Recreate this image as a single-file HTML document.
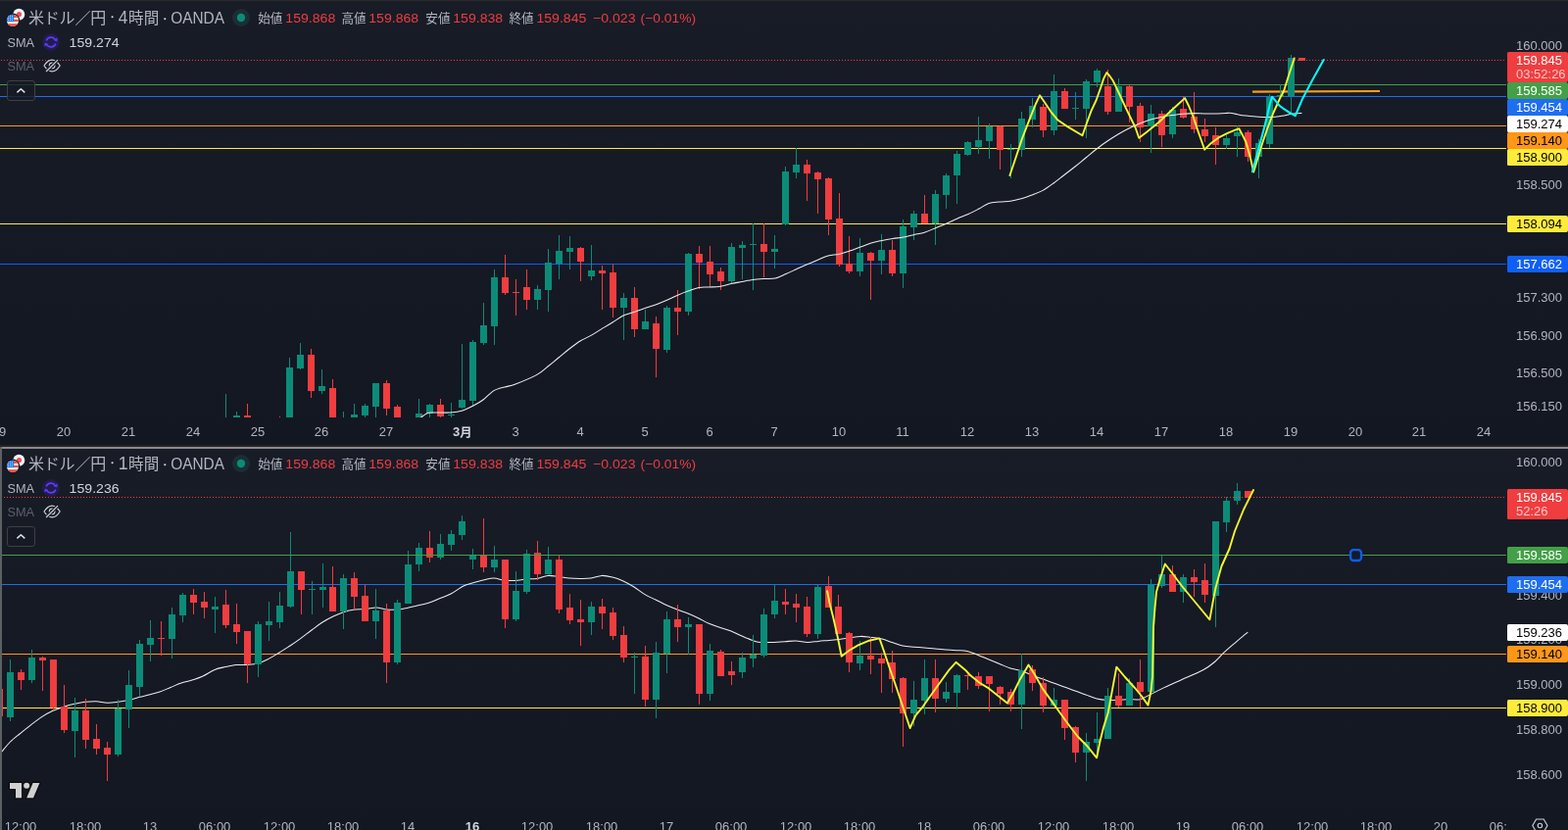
<!DOCTYPE html><html><head><meta charset="utf-8"><title>chart</title><style>html,body{margin:0;padding:0;background:#131722}body{width:1600px;height:847px;overflow:hidden;position:relative;font-family:"Liberation Sans",sans-serif}svg{display:block;position:absolute;left:0;top:0;will-change:transform;transform:translateZ(0)}text{font-family:"Liberation Sans",sans-serif;white-space:pre}text.jp{font-family:"Liberation Sans","Noto Sans CJK JP",sans-serif}</style></head><body><svg width="1600" height="847" viewBox="0 0 1600 847" font-family="Liberation Sans, sans-serif">
<defs><linearGradient id="bg" x1="0" y1="0" x2="0" y2="1"><stop offset="0" stop-color="#181c27"/><stop offset="1" stop-color="#131722"/></linearGradient><clipPath id="c1"><rect x="0" y="1" width="1538" height="425"/></clipPath><clipPath id="c2"><rect x="2" y="458" width="1536" height="368"/></clipPath><clipPath id="c3"><rect x="0" y="826" width="1538" height="21"/></clipPath></defs>
<rect x="0" y="0" width="1600" height="454" fill="url(#bg)"/>
<rect x="0" y="458" width="1600" height="389" fill="url(#bg)"/>
<rect x="0" y="0" width="1600" height="1" fill="#2b2a28"/>
<rect x="0" y="454" width="1600" height="2" fill="#242424"/>
<rect x="0" y="456" width="1600" height="2" fill="#8b8b8b"/>
<rect x="0" y="456" width="2" height="391" fill="#5b6063"/>
<g clip-path="url(#c1)">
<g shape-rendering="crispEdges">
<rect x="0" y="86" width="1537" height="1" fill="#43a047"/>
<rect x="0" y="98" width="1537" height="1" fill="#1e6ef0"/>
<rect x="0" y="128" width="1537" height="1" fill="#ff9718"/>
<rect x="0" y="151" width="1537" height="1" fill="#ffeb3b"/>
<rect x="0" y="228" width="1537" height="1" fill="#ffeb3b"/>
<rect x="0" y="269" width="1537" height="1" fill="#0f5ff7"/>
</g>
<path d="M1278 93.7 L1408 93" fill="none" stroke="#f5a01e" stroke-width="2.2" stroke-linejoin="round" stroke-linecap="butt"/>
<g shape-rendering="crispEdges"><path fill="#0c8c78" d="M230 402h1V440h-1zM241 420h1V430h-1zM295 365h1V430h-1zM306 350h1V377h-1zM328 377h1V402h-1zM350 420h1V440h-1zM361 412h1V430h-1zM372 412h1V426h-1zM383 391h1V430h-1zM427 407h1V430h-1zM438 412h1V426h-1zM460 411h1V426h-1zM471 351h1V417h-1zM482 347h1V414h-1zM493 309h1V352h-1zM504 275h1V352h-1zM548 291h1V316h-1zM559 254h1V318h-1zM570 240h1V285h-1zM581 241h1V275h-1zM603 250h1V286h-1zM636 299h1V347h-1zM658 316h1V336h-1zM680 312h1V360h-1zM702 258h1V322h-1zM746 248h1V290h-1zM757 246h1V285h-1zM768 228h1V296h-1zM790 240h1V274h-1zM801 170h1V230h-1zM812 151h1V182h-1zM877 243h1V282h-1zM899 239h1V280h-1zM921 224h1V294h-1zM932 215h1V245h-1zM954 194h1V250h-1zM965 177h1V213h-1zM976 154h1V208h-1zM987 144h1V159h-1zM998 119h1V157h-1zM1009 126h1V162h-1zM1031 147h1V182h-1zM1042 114h1V160h-1zM1053 100h1V130h-1zM1075 76h1V138h-1zM1097 94h1V122h-1zM1108 81h1V141h-1zM1119 70h1V89h-1zM1141 80h1V114h-1zM1174 107h1V156h-1zM1196 109h1V141h-1zM1251 138h1V152h-1zM1262 128h1V160h-1zM1284 142h1V182h-1zM1295 96h1V151h-1zM1306 86h1V99h-1zM1317 56h1V115h-1zM227 430h7V440h-7zM238 424h7V430h-7zM292 375h7V430h-7zM303 362h7V376h-7zM325 394h7V399h-7zM347 430h7V440h-7zM358 423h7V430h-7zM369 414h7V424h-7zM380 391h7V415h-7zM424 422h7V430h-7zM435 413h7V422h-7zM457 423h7V424h-7zM468 408h7V416h-7zM479 349h7V409h-7zM490 332h7V350h-7zM501 283h7V333h-7zM545 295h7V306h-7zM556 268h7V296h-7zM567 256h7V269h-7zM578 253h7V257h-7zM600 276h7V282h-7zM633 304h7V314h-7zM655 328h7V336h-7zM677 314h7V357h-7zM699 259h7V318h-7zM743 252h7V287h-7zM754 250h7V253h-7zM765 249h7V250h-7zM787 254h7V257h-7zM798 175h7V229h-7zM809 168h7V176h-7zM874 258h7V277h-7zM896 255h7V266h-7zM918 231h7V279h-7zM929 218h7V232h-7zM951 198h7V228h-7zM962 179h7V199h-7zM973 157h7V179h-7zM984 145h7V158h-7zM995 143h7V150h-7zM1006 129h7V144h-7zM1028 152h7V153h-7zM1039 121h7V153h-7zM1050 108h7V122h-7zM1072 93h7V133h-7zM1094 110h7V111h-7zM1105 83h7V111h-7zM1116 72h7V84h-7zM1138 88h7V114h-7zM1171 116h7V129h-7zM1193 112h7V137h-7zM1248 141h7V148h-7zM1259 135h7V139h-7zM1281 146h7V160h-7zM1292 99h7V147h-7zM1303 97h7V99h-7zM1314 59h7V98h-7z"/><path fill="#f03d3f" d="M252 412h1V430h-1zM285 425h1V440h-1zM317 356h1V406h-1zM339 387h1V430h-1zM394 388h1V424h-1zM405 413h1V430h-1zM449 407h1V426h-1zM515 260h1V301h-1zM526 285h1V322h-1zM537 275h1V316h-1zM592 252h1V287h-1zM614 271h1V316h-1zM625 270h1V324h-1zM647 293h1V344h-1zM669 323h1V385h-1zM691 296h1V342h-1zM713 251h1V295h-1zM724 251h1V293h-1zM735 273h1V296h-1zM779 228h1V283h-1zM823 163h1V205h-1zM834 175h1V218h-1zM845 181h1V240h-1zM856 197h1V272h-1zM866 241h1V279h-1zM888 257h1V306h-1zM910 245h1V282h-1zM943 199h1V228h-1zM1020 128h1V173h-1zM1064 106h1V140h-1zM1086 90h1V111h-1zM1130 71h1V117h-1zM1152 86h1V125h-1zM1163 105h1V145h-1zM1185 113h1V150h-1zM1207 98h1V121h-1zM1218 94h1V136h-1zM1229 121h1V145h-1zM1240 130h1V168h-1zM1273 133h1V165h-1zM1328 59h1V62h-1zM249 424h7V430h-7zM282 430h7V440h-7zM314 362h7V399h-7zM336 396h7V430h-7zM391 391h7V417h-7zM402 415h7V430h-7zM446 413h7V425h-7zM512 283h7V299h-7zM523 298h7V299h-7zM534 293h7V306h-7zM589 253h7V267h-7zM611 276h7V279h-7zM622 278h7V314h-7zM644 304h7V336h-7zM666 330h7V356h-7zM688 314h7V318h-7zM710 259h7V268h-7zM721 267h7V280h-7zM732 277h7V287h-7zM776 249h7V257h-7zM820 168h7V177h-7zM831 176h7V183h-7zM842 182h7V224h-7zM853 223h7V270h-7zM863 269h7V277h-7zM885 258h7V266h-7zM907 255h7V279h-7zM940 218h7V228h-7zM1017 129h7V153h-7zM1061 109h7V133h-7zM1083 93h7V111h-7zM1127 88h7V114h-7zM1149 88h7V109h-7zM1160 108h7V130h-7zM1182 116h7V138h-7zM1204 111h7V120h-7zM1215 119h7V132h-7zM1226 132h7V139h-7zM1237 138h7V148h-7zM1270 135h7V160h-7zM1325 59h7V62h-7z"/></g>
<path d="M428 427C428.3 426.8 428.7 426.5 430 425.6C431.3 424.7 434.0 422.6 436 421.8C438.0 421.0 438.0 421.1 442 421C446.0 420.9 455.0 421.3 460 421C465.0 420.7 468.2 420.2 472 419C475.8 417.8 479.5 415.8 483 414C486.5 412.2 489.5 410.6 493 408C496.5 405.4 500.3 400.8 504 398.6C507.7 396.4 511.3 396.1 515 395C518.7 393.9 520.5 394.1 526 392C531.5 389.9 542.5 385.4 548 382.4C553.5 379.4 555.3 376.9 559 374C562.7 371.1 566.3 368.0 570 365C573.7 362.0 577.3 358.8 581 356C584.7 353.2 588.3 350.3 592 348C595.7 345.7 599.3 344.5 603 342.4C606.7 340.3 610.3 337.8 614 335.6C617.7 333.4 621.3 331.3 625 329C628.7 326.7 632.3 323.8 636 322C639.7 320.2 643.3 319.8 647 318.5C650.7 317.2 654.3 315.6 658 314.4C661.7 313.1 665.3 312.3 669 311C672.7 309.7 676.3 308.2 680 306.6C683.7 305.0 687.3 303.0 691 301.4C694.7 299.8 698.3 298.3 702 297C705.7 295.7 709.3 294.1 713 293.4C716.7 292.7 720.3 293.2 724 293C727.7 292.8 731.3 292.8 735 292.2C738.7 291.6 742.3 290.4 746 289.6C749.7 288.8 753.3 288.2 757 287.5C760.7 286.8 764.2 285.9 768 285.4C771.8 284.9 776.2 284.7 780 284.5C783.8 284.3 787.3 284.8 791 284C794.7 283.2 798.5 281.0 802 279.5C805.5 278.0 808.5 276.6 812 275C815.5 273.4 819.3 271.6 823 270C826.7 268.4 830.3 267.0 834 265.5C837.7 264.0 841.3 262.0 845 261C848.7 260.0 852.3 260.2 856 259.4C859.7 258.6 863.3 257.2 867 256C870.7 254.8 874.3 253.3 878 252C881.7 250.7 885.3 249.1 889 248C892.7 246.9 896.3 246.2 900 245.4C903.7 244.7 907.3 244.1 911 243.5C914.7 242.9 918.3 242.7 922 242C925.7 241.3 929.3 240.3 933 239.5C936.7 238.7 940.3 238.2 944 237C947.7 235.8 951.3 234.0 955 232.5C958.7 231.0 962.3 229.6 966 228C969.7 226.4 973.3 224.6 977 223C980.7 221.4 984.3 220.2 988 218.5C991.7 216.8 995.5 214.8 999 213C1002.5 211.2 1005.5 208.6 1009 207.4C1012.5 206.2 1016.3 206.4 1020 206C1023.7 205.6 1027.3 205.7 1031 205.2C1034.7 204.7 1038.3 203.8 1042 202.8C1045.7 201.8 1049.3 200.4 1053 199C1056.7 197.6 1060.3 196.4 1064 194.4C1067.7 192.4 1071.3 189.7 1075 187C1078.7 184.3 1082.3 181.3 1086 178.5C1089.7 175.7 1093.3 172.9 1097 170C1100.7 167.1 1104.3 164.0 1108 161C1111.7 158.0 1115.3 154.8 1119 152C1122.7 149.2 1126.3 146.5 1130 144C1133.7 141.5 1137.3 139.2 1141 137C1144.7 134.8 1148.3 132.8 1152 131C1155.7 129.2 1159.3 127.5 1163 126C1166.7 124.5 1170.3 123.1 1174 122C1177.7 120.9 1181.3 120.1 1185 119.4C1188.7 118.7 1192.3 118.1 1196 117.6C1199.7 117.1 1203.3 116.5 1207 116.2C1210.7 115.9 1214.3 115.6 1218 115.6C1221.7 115.6 1225.3 115.9 1229 116C1232.7 116.1 1236.3 116.1 1240 116C1243.7 115.9 1248.2 115.5 1251 115.4C1253.8 115.3 1255.2 115.2 1257 115.4C1258.8 115.6 1259.8 116.2 1262 116.6C1264.2 117.0 1266.8 117.6 1270.5 118C1274.2 118.4 1279.5 119.0 1284 119.2C1288.5 119.5 1293.5 119.7 1297.5 119.5C1301.5 119.3 1304.5 118.8 1308 118.3C1311.5 117.8 1315.2 116.7 1318.5 116.2C1321.8 115.7 1326.4 115.5 1328 115.4" fill="none" stroke="#ededed" stroke-width="1.05" stroke-linejoin="round" stroke-linecap="round"/>
<path d="M1 61.5H1536" stroke="#f03d3f" stroke-width="1" stroke-dasharray="1 2" fill="none" shape-rendering="crispEdges"/>
<path d="M1030.4 179 L1036.9 159.8 L1043 141.4 L1050.7 121.4 L1056.9 106 L1061 97.3 L1066 104.5 L1072.2 113.8 L1079.1 122.2 L1089.1 129.1 L1104.5 138.3 L1108.8 126 L1113.4 113.4 L1118.7 102 L1123.2 89.2 L1126.2 80.1 L1129.3 74.1 L1132.3 77.5 L1135.3 81.7 L1138.3 87.7 L1142.9 97.5 L1148.9 110.4 L1156.5 126 L1158.5 130 L1162.2 140.8 L1169.5 135.2 L1182.5 124.8 L1195.5 112.5 L1209.1 100.1 L1213 108 L1217.5 119 L1222.7 134.5 L1229.2 152.7 L1235.7 146.2 L1243.5 140.4 L1252.6 135.8 L1260.4 132.6 L1264.3 131.3 L1267.5 137.1 L1271.4 145 L1274.7 156.6 L1277.3 167 L1279.2 175.5 L1282.5 164.4 L1287.7 147.5 L1292.9 132 L1299.4 115 L1305.8 100.8 L1310 93 L1315 77 L1320.7 59.5" fill="none" stroke="#f3f92c" stroke-width="1.9" stroke-linejoin="round" stroke-linecap="round"/>
<path d="M1277.9 175.2 L1281.2 163.1 L1285.1 148.8 L1289.6 132 L1292.9 119 L1295.5 107.3 L1298 98.8 L1302 103.4 L1305.8 108 L1310 111.2 L1316 115 L1321.7 118.2 L1329 101 L1339 82 L1350.7 61" fill="none" stroke="#0af5f5" stroke-width="2.1" stroke-linejoin="round" stroke-linecap="round"/>
</g>
<g transform="translate(0 0)"><circle cx="19.3" cy="14.8" r="6" fill="#f0f3fa"/><circle cx="19.500" cy="14.500" r="2.600" fill="#f3504f"/><circle cx="13" cy="20.900" r="7.350" fill="#141822"/><clipPath id="us1"><circle cx="13" cy="20.9" r="6.1"/></clipPath><g clip-path="url(#us1)"><rect x="6" y="14" width="14" height="14" fill="#f0f3fa"/><rect x="6" y="14.7" width="14" height="3.3" fill="#f0503c"/><rect x="6" y="19.9" width="14" height="2.2" fill="#f0503c"/><rect x="6" y="24.2" width="14" height="3.3" fill="#f0503c"/><rect x="6" y="14" width="8.2" height="8.1" fill="#1a7be6"/><g fill="#e8f0ff"><circle cx="8.3" cy="16.6" r=".55"/><circle cx="10.3" cy="16.6" r=".55"/><circle cx="12.3" cy="16.6" r=".55"/><circle cx="8.3" cy="18.6" r=".55"/><circle cx="10.3" cy="18.6" r=".55"/><circle cx="12.3" cy="18.6" r=".55"/><circle cx="8.3" cy="20.6" r=".55"/><circle cx="10.3" cy="20.6" r=".55"/><circle cx="12.3" cy="20.6" r=".55"/></g></g><text class="jp" x="29" y="23.5" font-size="16" fill="#b2b5be" text-anchor="start" textLength="79.25" lengthAdjust="spacing">米ドル／円</text><circle cx="114.6" cy="17.3" r="1.05" fill="#dcdee3"/><text x="120.7" y="23.8" font-size="17.8" fill="#b2b5be" text-anchor="start" textLength="9.6" lengthAdjust="spacingAndGlyphs" >4</text><text class="jp" x="131.1" y="23.5" font-size="15.6" fill="#b2b5be" text-anchor="start" textLength="31.2" lengthAdjust="spacing">時間</text><circle cx="168.3" cy="19.25" r="1.05" fill="#dcdee3"/><text x="174.2" y="24" font-size="17.4" fill="#b2b5be" text-anchor="start" textLength="54.8" lengthAdjust="spacingAndGlyphs" >OANDA</text><circle cx="246" cy="18" r="9" fill="#1a2f34"/><circle cx="246" cy="18" r="4.200" fill="#0c8c78"/><text class="jp" x="263.2" y="22.6" font-size="12.6" fill="#b2b5be" text-anchor="start" textLength="25.2" lengthAdjust="spacing">始値</text><text x="291.3" y="22.6" font-size="12.8" fill="#ee3d40" text-anchor="start" textLength="51" lengthAdjust="spacingAndGlyphs" >159.868</text><text class="jp" x="348.4" y="22.6" font-size="12.6" fill="#b2b5be" text-anchor="start" textLength="25.2" lengthAdjust="spacing">高値</text><text x="376.2" y="22.6" font-size="12.8" fill="#ee3d40" text-anchor="start" textLength="51" lengthAdjust="spacingAndGlyphs" >159.868</text><text class="jp" x="434.3" y="22.6" font-size="12.6" fill="#b2b5be" text-anchor="start" textLength="25.2" lengthAdjust="spacing">安値</text><text x="462.2" y="22.6" font-size="12.8" fill="#ee3d40" text-anchor="start" textLength="51" lengthAdjust="spacingAndGlyphs" >159.838</text><text class="jp" x="519.4" y="22.6" font-size="12.6" fill="#b2b5be" text-anchor="start" textLength="25.2" lengthAdjust="spacing">終値</text><text x="547.4" y="22.6" font-size="12.8" fill="#ee3d40" text-anchor="start" textLength="51" lengthAdjust="spacingAndGlyphs" >159.845</text><text x="605" y="22.6" font-size="12.8" fill="#ee3d40" text-anchor="start" textLength="43.5" lengthAdjust="spacingAndGlyphs" >−0.023</text><text x="653.6" y="22.6" font-size="12.8" fill="#ee3d40" text-anchor="start" textLength="56.5" lengthAdjust="spacingAndGlyphs" >(−0.01%)</text><text x="7.4" y="47.7" font-size="12" fill="#b2b5be" text-anchor="start" textLength="27.6" lengthAdjust="spacingAndGlyphs" >SMA</text><circle cx="52" cy="43" r="8.9" fill="#231c4d"/><g fill="none" stroke="#5b3df5" stroke-width="1.6"><path d="M47.2 41.6a5 5 0 0 1 9.3 -0.6"/><path d="M56.8 44.4a5 5 0 0 1 -9.3 0.6"/></g><path d="M58.6 38.6l-.3 4-3.7-1.5zM45.4 47.4l.3-4 3.7 1.5z" fill="#5b3df5"/><text x="70.6" y="47.7" font-size="12.6" fill="#d1d4dc" text-anchor="start" textLength="51" lengthAdjust="spacingAndGlyphs" >159.274</text><text x="7.4" y="71.8" font-size="12" fill="#5d606b" text-anchor="start" textLength="27.6" lengthAdjust="spacingAndGlyphs" >SMA</text><g fill="none" stroke="#cfd1d6" stroke-width="1.15"><path d="M45 67c2.400-3.900 5.200-5.900 8.100-5.900s5.700 2 8.100 5.900c-2.400 3.900-5.200 5.900-8.100 5.900s-5.700-2-8.100-5.900z"/><circle cx="53.1" cy="67" r="2.800"/><path d="M47.400 72.700L58.800 61.300" stroke="#181c27" stroke-width="3.400"/><path d="M47.100 73L59 61.100" stroke-width="1.250"/></g><rect x="7.5" y="82.500" width="28" height="20" rx="2.500" fill="#161a25" fill-opacity=".8" stroke="#404042" stroke-width="1"/><path d="M17.400 94.400l3.950-3.600 3.950 3.600" fill="none" stroke="#e4e5e9" stroke-width="1.450" stroke-linejoin="round"/></g>
<text x="1547" y="51.1" font-size="13" fill="#b2b5be" text-anchor="start" >160.000</text>
<text x="1547" y="192.6" font-size="13" fill="#b2b5be" text-anchor="start" >158.500</text>
<text x="1547" y="307.6" font-size="13" fill="#b2b5be" text-anchor="start" >157.300</text>
<text x="1547" y="346.6" font-size="13" fill="#b2b5be" text-anchor="start" >156.900</text>
<text x="1547" y="384.6" font-size="13" fill="#b2b5be" text-anchor="start" >156.500</text>
<text x="1547" y="418.6" font-size="13" fill="#b2b5be" text-anchor="start" >156.150</text>
<path d="M1539.500 53H1598a2 2 0 0 1 2 2V82a2 2 0 0 1 -2 2H1539.500a1.500 1.500 0 0 1 -1.500 -1.500V54.5a1.500 1.500 0 0 1 1.500 -1.500z" fill="#f03d3f"/><text x="1547" y="66.2" font-size="13" fill="#fff" text-anchor="start" >159.845</text><text x="1547" y="80" font-size="13" fill="#fbc4c8" text-anchor="start" >03:52:26</text>
<path d="M1539.500 84H1598a2 2 0 0 1 2 2V99a2 2 0 0 1 -2 2H1539.500a1.500 1.500 0 0 1 -1.500 -1.500V85.5a1.500 1.500 0 0 1 1.500 -1.500z" fill="#43a047"/><text x="1547" y="97" font-size="13" fill="#fff" text-anchor="start" >159.585</text>
<path d="M1539.500 101H1598a2 2 0 0 1 2 2V116a2 2 0 0 1 -2 2H1539.500a1.500 1.500 0 0 1 -1.500 -1.500V102.500a1.500 1.500 0 0 1 1.500 -1.500z" fill="#1e6ef0"/><text x="1547" y="114" font-size="13" fill="#fff" text-anchor="start" >159.454</text>
<path d="M1539.500 118H1598a2 2 0 0 1 2 2V133a2 2 0 0 1 -2 2H1539.500a1.500 1.500 0 0 1 -1.500 -1.500V119.500a1.500 1.500 0 0 1 1.500 -1.500z" fill="#ffffff"/><text x="1547" y="131" font-size="13" fill="#000" text-anchor="start" >159.274</text>
<path d="M1539.500 135H1598a2 2 0 0 1 2 2V150a2 2 0 0 1 -2 2H1539.500a1.500 1.500 0 0 1 -1.500 -1.500V136.500a1.500 1.500 0 0 1 1.500 -1.500z" fill="#ff9718"/><text x="1547" y="148" font-size="13" fill="#000" text-anchor="start" >159.140</text>
<path d="M1539.500 152H1598a2 2 0 0 1 2 2V167a2 2 0 0 1 -2 2H1539.500a1.500 1.500 0 0 1 -1.500 -1.500V153.500a1.500 1.500 0 0 1 1.500 -1.500z" fill="#ffeb3b"/><text x="1547" y="165" font-size="13" fill="#000" text-anchor="start" >158.900</text>
<path d="M1539.500 220H1598a2 2 0 0 1 2 2V235a2 2 0 0 1 -2 2H1539.500a1.500 1.500 0 0 1 -1.500 -1.500V221.500a1.500 1.500 0 0 1 1.500 -1.500z" fill="#ffeb3b"/><text x="1547" y="233" font-size="13" fill="#000" text-anchor="start" >158.094</text>
<path d="M1539.500 261H1598a2 2 0 0 1 2 2V276a2 2 0 0 1 -2 2H1539.500a1.500 1.500 0 0 1 -1.500 -1.500V262.500a1.500 1.500 0 0 1 1.500 -1.500z" fill="#0f5ff7"/><text x="1547" y="274" font-size="13" fill="#fff" text-anchor="start" >157.662</text>
<text x="-0.9" y="445.2" font-size="13" fill="#b2b5be" text-anchor="middle" >19</text>
<text x="65.1" y="445.2" font-size="13" fill="#b2b5be" text-anchor="middle" >20</text>
<text x="131.1" y="445.2" font-size="13" fill="#b2b5be" text-anchor="middle" >21</text>
<text x="197.1" y="445.2" font-size="13" fill="#b2b5be" text-anchor="middle" >24</text>
<text x="263.1" y="445.2" font-size="13" fill="#b2b5be" text-anchor="middle" >25</text>
<text x="328.1" y="445.2" font-size="13" fill="#b2b5be" text-anchor="middle" >26</text>
<text x="394.1" y="445.2" font-size="13" fill="#b2b5be" text-anchor="middle" >27</text>
<text x="526.1" y="445.2" font-size="13" fill="#b2b5be" text-anchor="middle" >3</text>
<text x="592.1" y="445.2" font-size="13" fill="#b2b5be" text-anchor="middle" >4</text>
<text x="658.1" y="445.2" font-size="13" fill="#b2b5be" text-anchor="middle" >5</text>
<text x="724.1" y="445.2" font-size="13" fill="#b2b5be" text-anchor="middle" >6</text>
<text x="790.1" y="445.2" font-size="13" fill="#b2b5be" text-anchor="middle" >7</text>
<text x="856.1" y="445.2" font-size="13" fill="#b2b5be" text-anchor="middle" >10</text>
<text x="921.1" y="445.2" font-size="13" fill="#b2b5be" text-anchor="middle" >11</text>
<text x="987.1" y="445.2" font-size="13" fill="#b2b5be" text-anchor="middle" >12</text>
<text x="1053.1" y="445.2" font-size="13" fill="#b2b5be" text-anchor="middle" >13</text>
<text x="1119.1" y="445.2" font-size="13" fill="#b2b5be" text-anchor="middle" >14</text>
<text x="1185.1" y="445.2" font-size="13" fill="#b2b5be" text-anchor="middle" >17</text>
<text x="1251.1" y="445.2" font-size="13" fill="#b2b5be" text-anchor="middle" >18</text>
<text x="1317.1" y="445.2" font-size="13" fill="#b2b5be" text-anchor="middle" >19</text>
<text x="1383.1" y="445.2" font-size="13" fill="#b2b5be" text-anchor="middle" >20</text>
<text x="1448.1" y="445.2" font-size="13" fill="#b2b5be" text-anchor="middle" >21</text>
<text x="1514.1" y="445.2" font-size="13" fill="#b2b5be" text-anchor="middle" >24</text>
<text x="461.9" y="445.2" font-size="13" fill="#d1d4dc" text-anchor="start" font-weight="bold" >3</text>
<text class="jp" x="469.2" y="445.6" font-size="12.4" fill="#d1d4dc" text-anchor="start" font-weight="bold">月</text>
<g clip-path="url(#c2)">
<g shape-rendering="crispEdges">
<rect x="2" y="596" width="1535" height="1" fill="#1e6ef0"/>
<rect x="2" y="667" width="1535" height="1" fill="#ff9718"/>
<rect x="2" y="722" width="1535" height="1" fill="#ffeb3b"/>
</g>
<path d="M2 767C3.3 765.4 7.0 760.5 10 757.5C13.0 754.5 16.3 752.0 20 749C23.7 746.0 28.2 742.3 32 739.4C35.8 736.5 39.3 733.8 43 731.4C46.7 729.0 50.3 727.0 54 725.3C57.7 723.6 61.3 722.5 65 721.3C68.7 720.1 72.3 719.1 76 718.3C79.7 717.5 83.3 716.7 87 716.3C90.7 715.9 94.2 715.5 98 715.7C101.8 715.9 105.8 717.2 109.5 717.3C113.2 717.4 116.8 716.8 120.5 716.3C124.2 715.8 127.8 715.1 131.500 714.3C135.2 713.5 139.1 712.2 142.500 711.3C145.9 710.4 148.6 709.9 152 709C155.4 708.1 159.3 707.2 163 706C166.7 704.8 170.3 703.0 174 701.5C177.7 700.0 181.3 698.2 185 697C188.7 695.8 192.3 695.2 196 694C199.7 692.8 203.2 691.8 207 690C210.8 688.2 215.2 685.0 219 683.4C222.8 681.8 226.3 681.4 230 680.6C233.7 679.8 237.3 679.0 241 678.6C244.7 678.2 248.3 678.7 252 678.4C255.7 678.1 259.3 678.0 263 677C266.7 676.0 270.3 674.2 274 672.4C277.7 670.6 281.3 668.2 285 666C288.7 663.8 292.3 661.4 296 659C299.7 656.6 303.3 654.1 307 651.4C310.7 648.7 314.3 645.7 318 643C321.7 640.3 325.3 637.3 329 635C332.7 632.7 336.3 630.8 340 629C343.7 627.2 347.3 625.6 351 624.4C354.7 623.2 358.3 622.5 362 622C365.7 621.5 369.3 621.9 373 621.6C376.7 621.3 380.3 619.9 384 620C387.7 620.1 391.3 621.7 395 622C398.7 622.3 402.3 622.3 406 622C409.7 621.7 413.3 620.8 417 620C420.7 619.2 424.5 618.3 428 617.5C431.5 616.7 434.5 616.2 438 615C441.5 613.8 445.3 612.0 449 610.5C452.7 609.0 456.0 608.1 460 606C464.0 603.9 469.3 599.8 473 598C476.7 596.2 478.7 596.0 482 595C485.3 594.0 489.3 592.8 493 592C496.7 591.2 500.3 589.9 504 590C507.7 590.1 511.3 592.0 515 592.4C518.7 592.8 522.3 592.6 526 592.4C529.7 592.2 533.3 591.3 537 591C540.7 590.7 544.3 591.0 548 590.4C551.7 589.8 555.3 587.7 559 587.4C562.7 587.1 566.3 588.0 570 588.4C573.7 588.8 577.3 589.7 581 590C584.7 590.3 588.3 590.4 592 590.4C595.7 590.4 599.3 590.5 603 590C606.7 589.5 610.3 587.6 614 587.4C617.7 587.2 621.3 588.1 625 589C628.7 589.9 632.3 591.3 636 593C639.7 594.7 643.3 596.7 647 599C650.7 601.3 654.3 604.4 658 606.6C661.7 608.8 665.3 610.2 669 612C672.7 613.8 676.3 615.8 680 617.5C683.7 619.2 687.3 620.6 691 622C694.7 623.4 698.3 624.5 702 626C705.7 627.5 709.3 629.2 713 631C716.7 632.8 720.3 635.0 724 636.6C727.7 638.2 731.3 639.3 735 640.5C738.7 641.7 742.3 642.6 746 644C749.7 645.4 753.3 647.4 757 649C760.7 650.6 764.8 652.5 768 653.6C771.2 654.7 772.3 655.1 776 655.4C779.7 655.7 785.8 655.5 790 655.4C794.2 655.3 797.3 654.9 801 654.7C804.7 654.5 808.2 653.9 812 654C815.8 654.1 820.2 655.3 824 655.4C827.8 655.5 831.3 654.7 835 654.4C838.7 654.1 842.5 653.7 846 653.4C849.5 653.1 852.5 652.8 856 652.4C859.5 652.0 863.3 651.5 867 651C870.7 650.5 874.3 649.5 878 649.4C881.7 649.3 885.3 650.0 889 650.4C892.7 650.8 896.5 651.1 900 652C903.5 652.9 906.5 654.3 910 655.5C913.5 656.7 917.3 658.2 921 659C924.7 659.8 928.3 659.9 932 660.2C935.7 660.5 939.3 660.7 943 661C946.7 661.3 950.3 661.7 954 662C957.7 662.3 961.3 662.7 965 663C968.7 663.3 972.3 663.5 976 663.7C979.7 663.9 983.3 663.6 987 664.4C990.7 665.2 994.3 667.1 998 668.5C1001.7 669.9 1005.3 671.5 1009 673C1012.7 674.5 1016.3 676.0 1020 677.5C1023.7 679.0 1027.3 680.8 1031 682C1034.7 683.2 1038.3 683.3 1042 684.5C1045.7 685.7 1049.3 687.6 1053 689C1056.7 690.4 1060.3 691.7 1064 693C1067.7 694.3 1071.3 695.7 1075 697C1078.7 698.3 1082.3 699.7 1086 701C1089.7 702.3 1093.3 703.7 1097 705C1100.7 706.3 1104.3 707.7 1108 709C1111.7 710.3 1115.3 712.1 1119 713C1122.7 713.9 1126.3 714.2 1130 714.4C1133.7 714.6 1137.3 714.5 1141 714.4C1144.7 714.3 1148.5 713.7 1152 713.6C1155.5 713.5 1159.3 714.3 1162 714C1164.7 713.7 1165.7 712.7 1168 711.6C1170.3 710.5 1172.7 709.3 1176 707.6C1179.3 705.9 1183.0 704.0 1188 701.6C1193.0 699.2 1199.3 696.5 1206 693.5C1212.7 690.5 1222.4 686.5 1228 683.5C1233.6 680.5 1236.0 678.4 1239.4 675.5C1242.8 672.6 1244.9 669.7 1248.4 666.4C1251.9 663.1 1256.4 659.3 1260.5 655.8C1264.6 652.3 1270.9 647.0 1273 645.3" fill="none" stroke="#ededed" stroke-width="1.05" stroke-linejoin="round" stroke-linecap="round"/>
<g shape-rendering="crispEdges"><path fill="#0c8c78" d="M10 673h1V736h-1zM32 663h1V697h-1zM76 712h1V773h-1zM120 714h1V772h-1zM131 684h1V743h-1zM142 653h1V711h-1zM153 633h1V675h-1zM175 620h1V672h-1zM186 605h1V635h-1zM219 609h1V646h-1zM263 634h1V691h-1zM274 614h1V654h-1zM285 604h1V641h-1zM296 543h1V620h-1zM318 593h1V627h-1zM329 575h1V620h-1zM350 586h1V642h-1zM383 601h1V652h-1zM405 612h1V678h-1zM416 562h1V616h-1zM427 554h1V583h-1zM449 545h1V571h-1zM460 541h1V562h-1zM471 526h1V551h-1zM482 560h1V581h-1zM504 557h1V584h-1zM526 583h1V634h-1zM537 561h1V606h-1zM559 558h1V586h-1zM603 614h1V648h-1zM647 666h1V708h-1zM669 655h1V733h-1zM680 624h1V687h-1zM702 630h1V668h-1zM724 657h1V715h-1zM757 666h1V692h-1zM768 648h1V681h-1zM779 621h1V671h-1zM790 596h1V631h-1zM834 597h1V652h-1zM877 654h1V684h-1zM932 695h1V741h-1zM943 673h1V729h-1zM965 696h1V717h-1zM976 688h1V724h-1zM1042 667h1V744h-1zM1075 702h1V720h-1zM1108 748h1V797h-1zM1119 727h1V772h-1zM1130 702h1V754h-1zM1152 692h1V720h-1zM1174 591h1V706h-1zM1185 567h1V600h-1zM1207 586h1V615h-1zM1240 532h1V640h-1zM1251 507h1V543h-1zM1262 493h1V515h-1zM7 686h7V732h-7zM29 671h7V694h-7zM73 725h7V746h-7zM117 723h7V770h-7zM128 699h7V724h-7zM139 657h7V701h-7zM150 651h7V658h-7zM172 627h7V652h-7zM183 607h7V628h-7zM216 619h7V622h-7zM260 637h7V678h-7zM271 634h7V638h-7zM282 618h7V635h-7zM293 583h7V619h-7zM315 601h7V602h-7zM326 599h7V602h-7zM347 590h7V624h-7zM380 623h7V634h-7zM402 615h7V676h-7zM413 576h7V616h-7zM424 559h7V576h-7zM446 555h7V569h-7zM457 545h7V556h-7zM468 532h7V546h-7zM479 567h7V571h-7zM501 571h7V579h-7zM523 603h7V632h-7zM534 565h7V604h-7zM556 571h7V586h-7zM600 619h7V635h-7zM644 670h7V671h-7zM666 666h7V714h-7zM677 632h7V667h-7zM699 637h7V640h-7zM721 664h7V708h-7zM754 671h7V686h-7zM765 668h7V672h-7zM776 627h7V669h-7zM787 613h7V627h-7zM831 599h7V647h-7zM874 669h7V677h-7zM929 714h7V728h-7zM940 692h7V715h-7zM962 706h7V713h-7zM973 689h7V707h-7zM1039 684h7V719h-7zM1072 714h7V720h-7zM1105 757h7V768h-7zM1116 754h7V758h-7zM1127 710h7V754h-7zM1149 697h7V720h-7zM1171 597h7V706h-7zM1182 586h7V598h-7zM1204 589h7V604h-7zM1237 532h7V608h-7zM1248 511h7V533h-7zM1259 501h7V511h-7z"/><path fill="#f03d3f" d="M-1 703h1V731h-1zM21 683h1V704h-1zM43 670h1V705h-1zM54 673h1V725h-1zM65 699h1V748h-1zM87 713h1V764h-1zM98 739h1V770h-1zM109 757h1V797h-1zM164 634h1V669h-1zM197 601h1V627h-1zM208 604h1V631h-1zM230 602h1V641h-1zM241 616h1V657h-1zM252 644h1V697h-1zM307 583h1V627h-1zM339 578h1V624h-1zM361 584h1V622h-1zM372 597h1V634h-1zM394 616h1V697h-1zM438 542h1V574h-1zM493 529h1V584h-1zM515 571h1V641h-1zM548 552h1V592h-1zM570 567h1V626h-1zM581 606h1V637h-1zM592 612h1V659h-1zM614 611h1V642h-1zM625 620h1V653h-1zM636 639h1V676h-1zM658 659h1V721h-1zM691 617h1V655h-1zM713 637h1V719h-1zM735 663h1V690h-1zM746 675h1V699h-1zM801 601h1V627h-1zM812 606h1V635h-1zM823 609h1V650h-1zM845 588h1V620h-1zM855 607h1V647h-1zM866 645h1V686h-1zM888 650h1V688h-1zM899 666h1V707h-1zM910 664h1V707h-1zM921 691h1V762h-1zM954 673h1V727h-1zM987 688h1V704h-1zM998 686h1V703h-1zM1009 690h1V726h-1zM1020 700h1V719h-1zM1031 703h1V726h-1zM1053 679h1V705h-1zM1064 691h1V727h-1zM1086 714h1V755h-1zM1097 741h1V778h-1zM1141 687h1V722h-1zM1163 673h1V722h-1zM1196 577h1V604h-1zM1218 581h1V609h-1zM1229 575h1V615h-1zM1273 501h1V508h-1zM-4 703h7V731h-7zM18 686h7V694h-7zM40 671h7V674h-7zM51 673h7V722h-7zM62 721h7V745h-7zM84 725h7V755h-7zM95 754h7V764h-7zM106 763h7V770h-7zM161 651h7V652h-7zM194 607h7V615h-7zM205 614h7V620h-7zM227 617h7V638h-7zM238 637h7V645h-7zM249 644h7V678h-7zM304 583h7V602h-7zM336 599h7V624h-7zM358 590h7V609h-7zM369 608h7V634h-7zM391 623h7V676h-7zM435 559h7V569h-7zM490 567h7V579h-7zM512 571h7V632h-7zM545 564h7V586h-7zM567 571h7V622h-7zM578 620h7V633h-7zM589 632h7V635h-7zM611 619h7V626h-7zM622 625h7V649h-7zM633 648h7V671h-7zM655 670h7V714h-7zM688 632h7V640h-7zM710 637h7V708h-7zM732 665h7V690h-7zM743 685h7V689h-7zM798 614h7V617h-7zM809 616h7V620h-7zM820 619h7V647h-7zM842 598h7V620h-7zM852 619h7V647h-7zM863 646h7V676h-7zM885 669h7V673h-7zM896 672h7V677h-7zM907 676h7V693h-7zM918 692h7V728h-7zM951 692h7V713h-7zM984 689h7V690h-7zM995 690h7V700h-7zM1006 690h7V698h-7zM1017 701h7V708h-7zM1028 706h7V719h-7zM1050 683h7V697h-7zM1061 697h7V720h-7zM1083 714h7V743h-7zM1094 742h7V768h-7zM1138 710h7V720h-7zM1160 696h7V706h-7zM1193 586h7V604h-7zM1215 589h7V594h-7zM1226 592h7V607h-7zM1270 501h7V508h-7z"/><rect x="2" y="566" width="1535" height="1" fill="#43a047"/></g>
<path d="M4 507.5H1536" stroke="#f03d3f" stroke-width="1" stroke-dasharray="1 2" fill="none" shape-rendering="crispEdges"/>
<path d="M844.1 603.2 L846.4 614.9 L850.2 630 L854.9 650.8 L858.7 669.7 L866.2 664 L875.7 658.4 L887 653.7 L897.4 651.4 L901.2 662.2 L906.9 679.2 L913.5 698 L921.1 720.8 L928.6 743 L934.3 730.2 L941.9 720.8 L951.3 707.5 L960.8 694.3 L968.3 683.9 L975.5 675.8 L985.3 683.9 L990 689.1 L999.5 696.7 L1008.9 702.4 L1018.4 710 L1027.8 717.5 L1033.5 708 L1041 692.9 L1049.5 678.4 L1055.2 687.3 L1063.7 702.4 L1073.2 715.6 L1082.6 728.8 L1090.2 739.2 L1099.6 751.5 L1109.1 761 L1119.1 773.3 L1122.3 757.2 L1126.1 742.1 L1130.8 727 L1134.6 706.2 L1139.3 680.6 L1148 691 L1158 702 L1165 710.5 L1171.5 719.6 L1174.5 705 L1176 690.5 L1176.5 665 L1177 640 L1178.5 620 L1180 604 L1184 590 L1188.8 575.5 L1197 586 L1206 598 L1220 615 L1234.4 632.3 L1237.5 615 L1240.4 600 L1246.4 578 L1254.5 560 L1260 542 L1269 520 L1279 500" fill="none" stroke="#f6f82e" stroke-width="1.9" stroke-linejoin="round" stroke-linecap="round"/>
<rect x="1378.100" y="561.100" width="10.900" height="10.900" rx="3" fill="#161a25" stroke="#0c5ef6" stroke-width="2.300"/>
</g>
<g transform="translate(0 455)"><circle cx="19.3" cy="14.8" r="6" fill="#f0f3fa"/><circle cx="19.500" cy="14.500" r="2.600" fill="#f3504f"/><circle cx="13" cy="20.900" r="7.350" fill="#141822"/><clipPath id="us2"><circle cx="13" cy="20.9" r="6.1"/></clipPath><g clip-path="url(#us2)"><rect x="6" y="14" width="14" height="14" fill="#f0f3fa"/><rect x="6" y="14.7" width="14" height="3.3" fill="#f0503c"/><rect x="6" y="19.9" width="14" height="2.2" fill="#f0503c"/><rect x="6" y="24.2" width="14" height="3.3" fill="#f0503c"/><rect x="6" y="14" width="8.2" height="8.1" fill="#1a7be6"/><g fill="#e8f0ff"><circle cx="8.3" cy="16.6" r=".55"/><circle cx="10.3" cy="16.6" r=".55"/><circle cx="12.3" cy="16.6" r=".55"/><circle cx="8.3" cy="18.6" r=".55"/><circle cx="10.3" cy="18.6" r=".55"/><circle cx="12.3" cy="18.6" r=".55"/><circle cx="8.3" cy="20.6" r=".55"/><circle cx="10.3" cy="20.6" r=".55"/><circle cx="12.3" cy="20.6" r=".55"/></g></g><text class="jp" x="29" y="23.5" font-size="16" fill="#b2b5be" text-anchor="start" textLength="79.25" lengthAdjust="spacing">米ドル／円</text><circle cx="114.6" cy="17.3" r="1.05" fill="#dcdee3"/><text x="120.7" y="23.8" font-size="17.8" fill="#b2b5be" text-anchor="start">1</text><text class="jp" x="131.1" y="23.5" font-size="15.6" fill="#b2b5be" text-anchor="start" textLength="31.2" lengthAdjust="spacing">時間</text><circle cx="168.3" cy="19.25" r="1.05" fill="#dcdee3"/><text x="174.2" y="24" font-size="17.4" fill="#b2b5be" text-anchor="start" textLength="54.8" lengthAdjust="spacingAndGlyphs" >OANDA</text><circle cx="246" cy="18" r="9" fill="#1a2f34"/><circle cx="246" cy="18" r="4.200" fill="#0c8c78"/><text class="jp" x="263.2" y="22.6" font-size="12.6" fill="#b2b5be" text-anchor="start" textLength="25.2" lengthAdjust="spacing">始値</text><text x="291.3" y="22.6" font-size="12.8" fill="#ee3d40" text-anchor="start" textLength="51" lengthAdjust="spacingAndGlyphs" >159.868</text><text class="jp" x="348.4" y="22.6" font-size="12.6" fill="#b2b5be" text-anchor="start" textLength="25.2" lengthAdjust="spacing">高値</text><text x="376.2" y="22.6" font-size="12.8" fill="#ee3d40" text-anchor="start" textLength="51" lengthAdjust="spacingAndGlyphs" >159.868</text><text class="jp" x="434.3" y="22.6" font-size="12.6" fill="#b2b5be" text-anchor="start" textLength="25.2" lengthAdjust="spacing">安値</text><text x="462.2" y="22.6" font-size="12.8" fill="#ee3d40" text-anchor="start" textLength="51" lengthAdjust="spacingAndGlyphs" >159.838</text><text class="jp" x="519.4" y="22.6" font-size="12.6" fill="#b2b5be" text-anchor="start" textLength="25.2" lengthAdjust="spacing">終値</text><text x="547.4" y="22.6" font-size="12.8" fill="#ee3d40" text-anchor="start" textLength="51" lengthAdjust="spacingAndGlyphs" >159.845</text><text x="605" y="22.6" font-size="12.8" fill="#ee3d40" text-anchor="start" textLength="43.5" lengthAdjust="spacingAndGlyphs" >−0.023</text><text x="653.6" y="22.6" font-size="12.8" fill="#ee3d40" text-anchor="start" textLength="56.5" lengthAdjust="spacingAndGlyphs" >(−0.01%)</text><text x="7.4" y="47.7" font-size="12" fill="#b2b5be" text-anchor="start" textLength="27.6" lengthAdjust="spacingAndGlyphs" >SMA</text><circle cx="52" cy="43" r="8.9" fill="#231c4d"/><g fill="none" stroke="#5b3df5" stroke-width="1.6"><path d="M47.2 41.6a5 5 0 0 1 9.3 -0.6"/><path d="M56.8 44.4a5 5 0 0 1 -9.3 0.6"/></g><path d="M58.6 38.6l-.3 4-3.7-1.5zM45.4 47.4l.3-4 3.7 1.5z" fill="#5b3df5"/><text x="70.6" y="47.7" font-size="12.6" fill="#d1d4dc" text-anchor="start" textLength="51" lengthAdjust="spacingAndGlyphs" >159.236</text><text x="7.4" y="71.8" font-size="12" fill="#5d606b" text-anchor="start" textLength="27.6" lengthAdjust="spacingAndGlyphs" >SMA</text><g fill="none" stroke="#cfd1d6" stroke-width="1.15"><path d="M45 67c2.400-3.900 5.200-5.900 8.100-5.900s5.700 2 8.100 5.900c-2.400 3.900-5.200 5.900-8.100 5.900s-5.700-2-8.100-5.900z"/><circle cx="53.1" cy="67" r="2.800"/><path d="M47.400 72.700L58.800 61.300" stroke="#181c27" stroke-width="3.400"/><path d="M47.100 73L59 61.100" stroke-width="1.250"/></g><rect x="7.5" y="82.500" width="28" height="20" rx="2.500" fill="#161a25" fill-opacity=".8" stroke="#404042" stroke-width="1"/><path d="M17.400 94.400l3.950-3.600 3.950 3.600" fill="none" stroke="#e4e5e9" stroke-width="1.450" stroke-linejoin="round"/></g>
<g transform="translate(10 795.470) scale(.857)" fill="#d0d0d0" stroke="#0c0d10" stroke-width="3" paint-order="stroke" stroke-linejoin="round"><path d="M14 22H7V11H0V4h14z"/><circle cx="20" cy="7.400" r="3.500"/><path d="M28 22h-8l7.500-18h8z"/></g>
<text x="1547" y="476" font-size="13" fill="#b2b5be" text-anchor="start" >160.000</text>
<text x="1547" y="611.6" font-size="13" fill="#b2b5be" text-anchor="start" >159.400</text>
<text x="1547" y="657.4" font-size="13" fill="#b2b5be" text-anchor="start" >159.200</text>
<text x="1547" y="703.4" font-size="13" fill="#b2b5be" text-anchor="start" >159.000</text>
<text x="1547" y="749.4" font-size="13" fill="#b2b5be" text-anchor="start" >158.800</text>
<text x="1547" y="794.8" font-size="13" fill="#b2b5be" text-anchor="start" >158.600</text>
<path d="M1539.500 499H1598a2 2 0 0 1 2 2V528a2 2 0 0 1 -2 2H1539.500a1.500 1.500 0 0 1 -1.500 -1.500V500.500a1.500 1.500 0 0 1 1.500 -1.500z" fill="#f03d3f"/><text x="1547" y="512.2" font-size="13" fill="#fff" text-anchor="start" >159.845</text><text x="1547" y="526" font-size="13" fill="#fbc4c8" text-anchor="start" >52:26</text>
<path d="M1539.500 558H1598a2 2 0 0 1 2 2V573a2 2 0 0 1 -2 2H1539.500a1.500 1.500 0 0 1 -1.500 -1.500V559.500a1.500 1.500 0 0 1 1.500 -1.500z" fill="#43a047"/><text x="1547" y="571" font-size="13" fill="#fff" text-anchor="start" >159.585</text>
<path d="M1539.500 588H1598a2 2 0 0 1 2 2V603a2 2 0 0 1 -2 2H1539.500a1.500 1.500 0 0 1 -1.500 -1.500V589.500a1.500 1.500 0 0 1 1.500 -1.500z" fill="#1e6ef0"/><text x="1547" y="601" font-size="13" fill="#fff" text-anchor="start" >159.454</text>
<path d="M1539.500 637H1598a2 2 0 0 1 2 2V652a2 2 0 0 1 -2 2H1539.500a1.500 1.500 0 0 1 -1.500 -1.500V638.500a1.500 1.500 0 0 1 1.500 -1.500z" fill="#ffffff"/><text x="1547" y="650" font-size="13" fill="#000" text-anchor="start" >159.236</text>
<path d="M1539.500 659H1598a2 2 0 0 1 2 2V674a2 2 0 0 1 -2 2H1539.500a1.500 1.500 0 0 1 -1.500 -1.500V660.500a1.500 1.500 0 0 1 1.500 -1.500z" fill="#ff9718"/><text x="1547" y="672" font-size="13" fill="#000" text-anchor="start" >159.140</text>
<path d="M1539.500 714H1598a2 2 0 0 1 2 2V729a2 2 0 0 1 -2 2H1539.500a1.500 1.500 0 0 1 -1.500 -1.500V715.500a1.500 1.500 0 0 1 1.500 -1.500z" fill="#ffeb3b"/><text x="1547" y="727" font-size="13" fill="#000" text-anchor="start" >158.900</text>
<g clip-path="url(#c3)">
<text x="21.1" y="847.8" font-size="13" fill="#b2b5be" text-anchor="middle" >12:00</text>
<text x="87.1" y="847.8" font-size="13" fill="#b2b5be" text-anchor="middle" >18:00</text>
<text x="153.1" y="847.8" font-size="13" fill="#b2b5be" text-anchor="middle" >13</text>
<text x="219.1" y="847.8" font-size="13" fill="#b2b5be" text-anchor="middle" >06:00</text>
<text x="285.1" y="847.8" font-size="13" fill="#b2b5be" text-anchor="middle" >12:00</text>
<text x="350.1" y="847.8" font-size="13" fill="#b2b5be" text-anchor="middle" >18:00</text>
<text x="416.1" y="847.8" font-size="13" fill="#b2b5be" text-anchor="middle" >14</text>
<text x="548.1" y="847.8" font-size="13" fill="#b2b5be" text-anchor="middle" >12:00</text>
<text x="614.1" y="847.8" font-size="13" fill="#b2b5be" text-anchor="middle" >18:00</text>
<text x="680.1" y="847.8" font-size="13" fill="#b2b5be" text-anchor="middle" >17</text>
<text x="746.1" y="847.8" font-size="13" fill="#b2b5be" text-anchor="middle" >06:00</text>
<text x="812.1" y="847.8" font-size="13" fill="#b2b5be" text-anchor="middle" >12:00</text>
<text x="877.1" y="847.8" font-size="13" fill="#b2b5be" text-anchor="middle" >18:00</text>
<text x="943.1" y="847.8" font-size="13" fill="#b2b5be" text-anchor="middle" >18</text>
<text x="1009.1" y="847.8" font-size="13" fill="#b2b5be" text-anchor="middle" >06:00</text>
<text x="1075.1" y="847.8" font-size="13" fill="#b2b5be" text-anchor="middle" >12:00</text>
<text x="1141.1" y="847.8" font-size="13" fill="#b2b5be" text-anchor="middle" >18:00</text>
<text x="1207.1" y="847.8" font-size="13" fill="#b2b5be" text-anchor="middle" >19</text>
<text x="1273.1" y="847.8" font-size="13" fill="#b2b5be" text-anchor="middle" >06:00</text>
<text x="1339.1" y="847.8" font-size="13" fill="#b2b5be" text-anchor="middle" >12:00</text>
<text x="1404.1" y="847.8" font-size="13" fill="#b2b5be" text-anchor="middle" >18:00</text>
<text x="1470.1" y="847.8" font-size="13" fill="#b2b5be" text-anchor="middle" >20</text>
<text x="1536.1" y="847.8" font-size="13" fill="#b2b5be" text-anchor="middle" >06:00</text>
<text x="482.1" y="847.8" font-size="13" fill="#d1d4dc" text-anchor="middle" font-weight="bold" >16</text>
</g>
<g fill="none" stroke="#d1d4dc" stroke-width="1.100"><path d="M1563.800 842.500l3.800-6.500h7.600l3.800 6.500-3.800 6.500h-7.600z"/><circle cx="1571.400" cy="842.500" r="2.200"/></g>
</svg></body></html>
